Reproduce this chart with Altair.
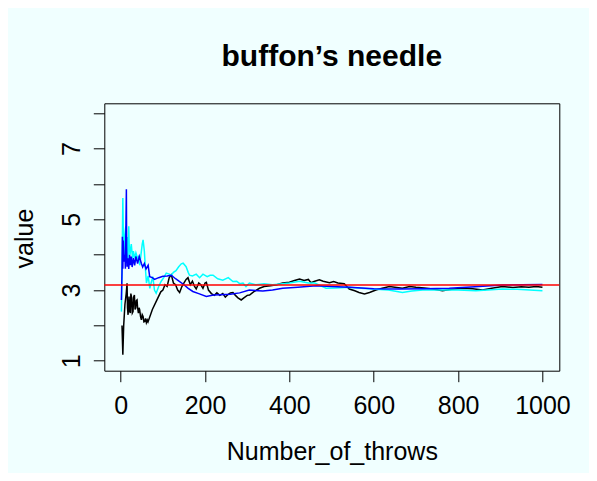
import altair as alt
import pandas as pd

# ---- data ----
black_x = [3, 5, 7, 10, 13, 15, 16, 17.4, 19.7, 21, 22.9, 24, 26, 27.5, 29.2, 30.5, 32.4, 34, 35.5, 37,
           38.7, 40, 41.9, 43.5, 45, 47, 49, 51, 53, 55, 56.8, 59, 60.8, 63, 64.7, 75, 85, 95, 100, 105,
           110, 115, 120, 125, 130, 135, 139.7, 145, 150, 155, 159.5, 165, 170, 175, 179, 185, 190, 195,
           200, 203, 208, 215, 222, 228, 235, 242, 248, 255, 260, 266, 272, 278, 285.7, 292, 300, 305.5,
           315, 329, 340, 355, 370, 384, 400, 412, 424, 435, 445, 451, 460, 471, 480, 495, 505, 515, 530,
           542, 555, 565, 578, 590, 605, 620, 637, 650, 668, 685, 700, 720, 740, 763, 785, 811, 835, 858,
           880, 905, 930, 950, 968, 985, 1000]
black_y = [2.0, 1.17, 2.0, 2.6, 2.9, 3.19, 2.5, 2.30, 2.82, 2.4, 2.35, 2.9, 2.77, 2.35, 2.39, 2.8, 2.86,
           2.45, 2.49, 2.7, 2.72, 2.5, 2.35, 2.5, 2.44, 2.25, 2.16, 2.3, 2.25, 2.1, 2.11, 2.2, 2.08, 2.15,
           2.1, 2.45, 2.7, 2.95, 3.0, 3.15, 3.1, 3.35, 3.43, 3.2, 3.15, 3.0, 2.93, 3.1, 3.2, 3.3, 3.35,
           3.15, 3.25, 3.1, 3.03, 3.2, 3.15, 3.05, 3.2, 3.22, 3.0, 2.9, 2.85, 2.92, 2.85, 2.9, 2.8, 2.88,
           2.92, 2.93, 2.85, 2.78, 2.72, 2.78, 2.85, 2.86, 2.95, 3.05, 3.1, 3.12, 3.15, 3.2, 3.22, 3.27,
           3.31, 3.27, 3.3, 3.21, 3.25, 3.29, 3.25, 3.21, 3.24, 3.2, 3.18, 3.03, 2.98, 2.93, 2.89, 2.93,
           3.0, 3.05, 3.1, 3.08, 3.05, 3.1, 3.08, 3.06, 3.03, 2.98, 3.02, 3.05, 3.04, 3.0, 3.05, 3.1,
           3.07, 3.09, 3.08, 3.1, 3.08]

blue_x = [1.6, 3, 4, 5, 6, 8, 10, 11, 13.4, 14, 15, 17, 19, 21, 23, 25, 27, 30, 33, 36, 40, 44, 49, 52,
          56, 60, 65, 68.7, 75, 80, 90, 100, 110, 120, 130, 139.7, 150, 160, 171, 185, 203, 220, 235, 260,
          282, 305, 337, 360, 384, 420, 463, 500, 542, 600, 660, 720, 779, 840, 905, 950, 1000]
blue_y = [2.72, 3.5, 4.51, 3.6, 4.4, 3.8, 4.0, 3.6, 5.85, 4.2, 3.66, 3.9, 3.6, 4.0, 3.7, 3.95, 3.65, 3.9,
          3.7, 3.95, 3.75, 3.95, 3.75, 3.65, 3.75, 3.6, 3.7, 3.38, 3.35, 3.3, 3.35, 3.39, 3.4, 3.42, 3.32,
          3.24, 3.15, 3.05, 2.96, 2.9, 2.82, 2.86, 2.87, 2.88, 2.92, 3.0, 2.97, 3.0, 3.05, 3.08, 3.12, 3.1,
          3.08, 3.04, 3.03, 3.04, 3.05, 3.09, 3.14, 3.15, 3.16]

cyan_x = [1.6, 3, 4, 5, 6, 7, 8.5, 10, 12, 13, 15, 17, 19, 20, 22, 25, 28, 30, 33, 36, 40, 43, 45, 48,
          51, 53, 56, 58, 61, 65, 69, 72, 76, 80, 84, 90, 96, 102, 108, 115, 120, 125, 131, 137, 143.6,
          148, 155, 160, 163, 170, 179, 187, 195, 205, 212, 219, 230, 242, 255, 266, 275, 282, 290, 297,
          305, 320, 340, 360, 384, 400, 424, 445, 460, 487, 510, 542, 570, 605, 635, 668, 690, 716, 760,
          800, 842, 870, 905, 940, 970, 1000]
cyan_y = [2.39, 3.5, 4.5, 5.6, 4.6, 4.5, 3.9, 4.6, 4.8, 4.0, 4.5, 3.7, 4.8, 4.3, 4.0, 4.3, 3.9, 4.1, 3.9,
          4.05, 3.9, 3.95, 3.7, 4.0, 4.3, 4.42, 4.1, 3.7, 3.2, 3.4, 3.05, 3.2, 3.38, 3.0, 2.91, 3.1, 3.25,
          3.35, 3.48, 3.45, 3.42, 3.5, 3.55, 3.65, 3.74, 3.76, 3.66, 3.5, 3.42, 3.4, 3.45, 3.35, 3.45,
          3.38, 3.42, 3.42, 3.32, 3.28, 3.35, 3.24, 3.25, 3.18, 3.2, 3.1, 3.2, 3.15, 3.18, 3.15, 3.18, 3.2,
          3.25, 3.2, 3.2, 3.05, 3.06, 3.08, 3.05, 3.02, 3.0, 2.93, 2.97, 3.0, 3.0, 3.0, 2.98, 3.0, 3.03,
          3.02, 3.0, 2.98]

pi_value = [3.14159]

x_ticks = [0, 200, 400, 600, 800, 1000]
y_ticks = [1, 2, 3, 4, 5, 6, 7, 8]

FONT = "Liberation Sans"
X_DOMAIN = [-38.96, 1039.96]
Y_DOMAIN = [0.72, 8.28]

x_enc = alt.X(
    "x:Q",
    scale=alt.Scale(domain=X_DOMAIN, nice=False, zero=False),
    axis=alt.Axis(
        values=x_ticks, format="d", title="Number_of_throws", grid=False, domain=False,
        tickSize=11, tickColor="black", tickWidth=1,
        labelFont=FONT, labelFontSize=25, labelColor="black",
        labelBaseline="alphabetic", labelPadding=31.5, labelOverlap=False, labelFlush=False,
        titleFont=FONT, titleFontSize=25, titleFontWeight="normal", titleColor="black",
        titleBaseline="alphabetic", titleY=88.6,
    ),
)
y_enc = alt.Y(
    "y:Q",
    scale=alt.Scale(domain=Y_DOMAIN, nice=False, zero=False),
    axis=alt.Axis(
        values=y_ticks, title="value", grid=False, domain=False,
        tickSize=11, tickColor="black", tickWidth=1,
        labelExpr="datum.value % 2 == 1 ? datum.label : ''",
        labelFont=FONT, labelFontSize=25, labelColor="black",
        labelAngle=270, labelAlign="center", labelBaseline="alphabetic",
        labelPadding=14.3, labelOverlap=False, labelFlush=False,
        titleFont=FONT, titleFontSize=25, titleFontWeight="normal", titleColor="black",
        titleAngle=270, titleAlign="center", titleBaseline="alphabetic",
        titleX=-71.8, titleY=134.7,
    ),
)


def series(xs, ys, color):
    df = pd.DataFrame({"x": xs, "y": ys})
    return alt.Chart(df).mark_line(color=color, strokeWidth=1.5, clip=True).encode(
        x=x_enc, y=y_enc
    )


black = series(black_x, black_y, "#000000")
cyan = series(cyan_x, cyan_y, "#00FFFF")
blue = series(blue_x, blue_y, "#0000FF")

pi_df = pd.DataFrame({"y": pi_value})
pi_line = alt.Chart(pi_df).mark_rule(color="#FF0000", strokeWidth=1.4).encode(y=y_enc)

chart = (
    alt.layer(black, cyan, blue, pi_line)
    .properties(
        width=455,
        height=267.4,
        background="#F0FFFF",
        padding={"left": 96.3, "top": 95.3, "right": 29.7, "bottom": 102.3},
        autosize=alt.AutoSizeParams(type="none"),
        title=alt.TitleParams(
            text="buffon’s needle", font=FONT, fontSize=30, fontWeight="bold",
            color="black", anchor="middle", frame="group", baseline="alphabetic", offset=7,
        ),
    )
    .configure_view(stroke="black", strokeWidth=1, fill="#F0FFFF")
)

chart.save("out.html", embed_options={"renderer": "svg", "actions": False})
